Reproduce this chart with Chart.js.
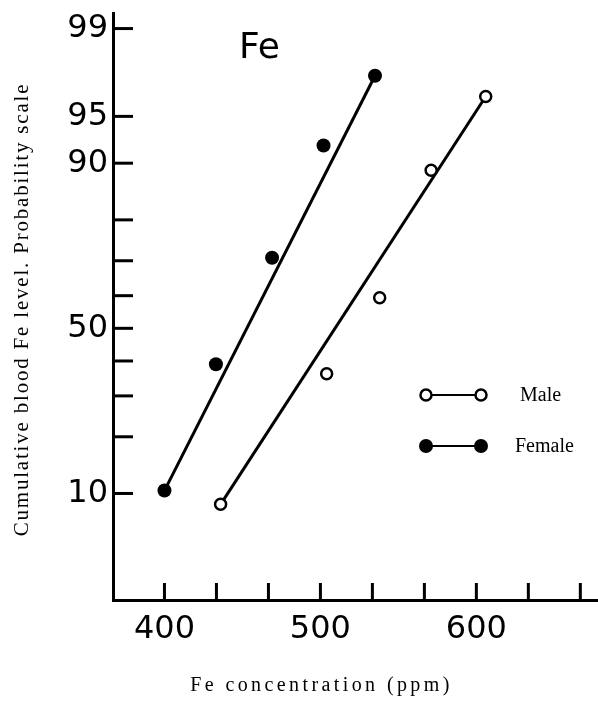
<!DOCTYPE html>
<html>
<head>
<meta charset="utf-8">
<script src="https://cdn.jsdelivr.net/npm/chart.js@4/dist/chart.umd.min.js"></script>
<style>
html,body{margin:0;padding:0;background:#fff;}
#c{display:block;}
</style>
</head>
<body>
<canvas id="c" width="598" height="704"></canvas>
<script>
// ---- data ----
const femaleFe  = [400, 433, 469, 502, 535];
const femalePct = [10.4, 39.0, 70.8, 92.2, 97.5];
const maleFe    = [436, 504, 538, 571, 606];
const malePct   = [8.6, 36.2, 59.4, 89.0, 96.4];
// fitted straight lines (end points)
const femaleFitFe  = [400, 535];
const femaleFitPct = [10.4, 97.5];
const maleFitFe    = [436, 606];
const maleFitPct   = [8.6, 96.4];
// axis ticks
const yTickPcts    = [10, 20, 30, 40, 50, 60, 70, 80, 90, 95, 99];
const yLabelPcts   = [10, 50, 90, 95, 99];
const xTickValues  = [400, 433.33, 466.67, 500, 533.33, 566.67, 600, 633.33, 666.67];
const xLabelValues = [400, 500, 600];
const seriesNames  = ['Male', 'Female'];
const yRangePct    = [1.75, 99.28];
const xRange       = [367, 678];

// inverse of the standard normal CDF (probability scale)
function probit(p){
  const a=[-3.969683028665376e+01,2.209460984245205e+02,-2.759285104469687e+02,1.383577518672690e+02,-3.066479806614716e+01,2.506628277459239e+00];
  const b=[-5.447609879822406e+01,1.615858368580409e+02,-1.556989798598866e+02,6.680131188771972e+01,-1.328068155288572e+01];
  const c=[-7.784894002430293e-03,-3.223964580411365e-01,-2.400758277161838e+00,-2.549671348283169e+00,4.374664141464968e+00,2.938163982698783e+00];
  const d=[7.784695709041462e-03,3.224671290700398e-01,2.445134137142996e+00,3.754408661907416e+00];
  const pl=0.02425, ph=1-pl; let q,r;
  if(p<pl){q=Math.sqrt(-2*Math.log(p));return (((((c[0]*q+c[1])*q+c[2])*q+c[3])*q+c[4])*q+c[5])/((((d[0]*q+d[1])*q+d[2])*q+d[3])*q+1);}
  if(p<=ph){q=p-0.5;r=q*q;return (((((a[0]*r+a[1])*r+a[2])*r+a[3])*r+a[4])*r+a[5])*q/(((((b[0]*r+b[1])*r+b[2])*r+b[3])*r+b[4])*r+1);}
  q=Math.sqrt(-2*Math.log(1-p));return -(((((c[0]*q+c[1])*q+c[2])*q+c[3])*q+c[4])*q+c[5])/((((d[0]*q+d[1])*q+d[2])*q+d[3])*q+1);
}
const pts = (xs, ps) => xs.map((x,i)=>({x:x, y:probit(ps[i]/100)}));

// inward tick marks, drawn through the scales
const inwardTicks = {
  id:'inwardTicks',
  afterDatasetsDraw(chart){
    const ctx=chart.ctx, ca=chart.chartArea, xs=chart.scales.x, ys=chart.scales.y;
    ctx.save();
    ctx.strokeStyle='#000'; ctx.lineWidth=3; ctx.lineCap='butt';
    yTickPcts.forEach(p=>{
      const y=ys.getPixelForValue(probit(p/100));
      ctx.beginPath(); ctx.moveTo(ca.left, y); ctx.lineTo(ca.left+20, y); ctx.stroke();
    });
    xTickValues.forEach(v=>{
      const x=xs.getPixelForValue(v);
      ctx.beginPath(); ctx.moveTo(x, ca.bottom); ctx.lineTo(x, ca.bottom-17); ctx.stroke();
    });
    ctx.restore();
  }
};

// panel label and legend
const annotations = {
  id:'annotations',
  afterDraw(chart){
    const ctx=chart.ctx;
    ctx.save();
    ctx.fillStyle='#000';
    ctx.font='36px "DejaVu Sans"';
    ctx.textAlign='left'; ctx.textBaseline='alphabetic';
    ctx.fillText('Fe', 239, 58);
    // legend
    const rows=[{y:395, filled:false, name:seriesNames[0], tx:520},{y:446, filled:true, name:seriesNames[1], tx:515}];
    rows.forEach(r=>{
      const x1=426, x2=481;
      ctx.strokeStyle='#000'; ctx.lineWidth=2;
      ctx.beginPath(); ctx.moveTo(x1, r.y); ctx.lineTo(x2, r.y); ctx.stroke();
      [x1,x2].forEach(x=>{
        ctx.beginPath(); ctx.arc(x, r.y, r.filled?7:5.5, 0, Math.PI*2);
        if(r.filled){ctx.fillStyle='#000'; ctx.fill();}
        else {ctx.fillStyle='#fff'; ctx.fill(); ctx.lineWidth=2.5; ctx.stroke();}
      });
      ctx.fillStyle='#000';
      ctx.font='20px "Liberation Serif"';
      ctx.textBaseline='middle';
      ctx.fillText(r.name, r.tx, r.y+1);
    });
    ctx.restore();
  }
};

// letter-spaced axis titles
const titleStyle = {
  id:'titleStyle',
  beforeDraw(chart){
    Object.entries(chart.scales).forEach(([id,s])=>{
      if(s._wrappedTitle) return;
      const orig=s.drawTitle;
      const sp = id==='x' ? '3.4px' : '1.8px';
      const dx = id==='x' ? -34 : 0, dy = id==='x' ? 0 : 3;
      s.drawTitle=function(){
        const ctx=this.ctx; ctx.save(); ctx.letterSpacing=sp; ctx.translate(dx,dy);
        orig.apply(this, arguments); ctx.restore();
      };
      s._wrappedTitle=true;
    });
  }
};

new Chart(document.getElementById('c'), {
  type:'scatter',
  data:{
    datasets:[
      {label:'Female', data:pts(femaleFe,femalePct), showLine:false, pointRadius:7, pointHoverRadius:7,
       pointBackgroundColor:'#000', pointBorderColor:'#000', pointBorderWidth:0, order:0, clip:false},
      {label:'Male', data:pts(maleFe,malePct), showLine:false, pointRadius:5.5, pointHoverRadius:5.5,
       pointBackgroundColor:'#fff', pointBorderColor:'#000', pointBorderWidth:2.5, order:0, clip:false},
      {label:'Female fit', data:pts(femaleFitFe,femaleFitPct), showLine:true, pointRadius:0,
       borderColor:'#000', borderWidth:3, order:1},
      {label:'Male fit', data:pts(maleFitFe,maleFitPct), showLine:true, pointRadius:0,
       borderColor:'#000', borderWidth:3, order:1}
    ]
  },
  options:{
    responsive:false, animation:false, devicePixelRatio:1,
    layout:{autoPadding:false, padding:{top:13,right:0,left:0,bottom:0}},
    plugins:{legend:{display:false}, tooltip:{enabled:false}, title:{display:false}},
    scales:{
      x:{
        type:'linear', min:xRange[0], max:xRange[1],
        afterBuildTicks:(s)=>{ s.ticks = xTickValues.map(v=>({value:v})); },
        afterFit:(s)=>{ s.height = 104; s.paddingLeft = 0; s.paddingRight = 0; },
        grid:{display:false, drawTicks:false},
        border:{display:true, color:'#000', width:3},
        ticks:{autoSkip:false, maxRotation:0, padding:10, color:'#000',
          font:{family:'"DejaVu Sans"', size:32},
          callback:(v)=>{ const m = xLabelValues.find(l=>Math.abs(l-v)<0.01); return m===undefined ? '' : String(m); }},
        title:{display:true, text:'Fe concentration (ppm)', color:'#000',
          font:{family:'"Liberation Serif"', size:20}, padding:{top:0,bottom:6}}
      },
      y:{
        type:'linear', min:probit(yRangePct[0]/100), max:probit(yRangePct[1]/100),
        afterBuildTicks:(s)=>{ s.ticks = yTickPcts.map(p=>({value:probit(p/100)})); },
        afterFit:(s)=>{ s.width = 113; s.paddingTop = 0; s.paddingBottom = 0; },
        grid:{display:false, drawTicks:false},
        border:{display:true, color:'#000', width:3},
        ticks:{autoSkip:false, padding:5, color:'#000',
          font:{family:'"DejaVu Sans"', size:32},
          callback:(v,i)=>{ const p=yTickPcts[i]; return yLabelPcts.includes(p) ? String(p) : ''; }},
        title:{display:true, text:'Cumulative blood Fe level. Probability scale', color:'#000',
          font:{family:'"Liberation Serif"', size:21}, padding:{top:10,bottom:0}}
      }
    }
  },
  plugins:[inwardTicks, annotations, titleStyle]
});
</script>
</body>
</html>
